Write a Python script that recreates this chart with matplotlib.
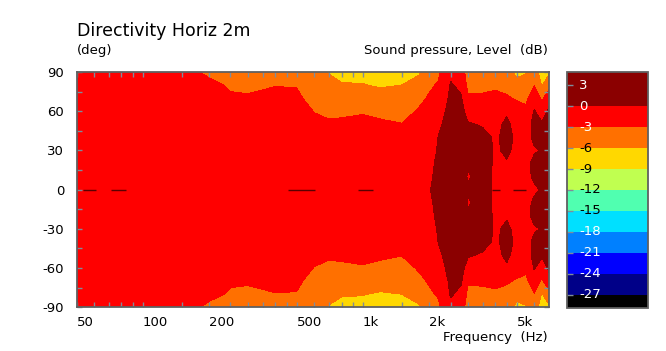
import matplotlib
matplotlib.use('Agg')
import matplotlib.pyplot as plt
from matplotlib.ticker import FixedLocator, NullFormatter
import numpy as np

plt.rcParams['font.family'] = ['DejaVu Sans']
plt.rcParams['axes.unicode_minus'] = False

# frequencies (Hz) of the measured columns
freqs = [50, 100, 150, 180, 200, 250, 300, 400, 500, 600, 700, 800, 1000, 1200,
         1500, 1800, 2000, 2200, 2500, 2800, 3000, 3500, 4000, 4500, 5000, 5500,
         6000, 6500, 7000]
# angles of the upper half (deg), lower half is mirrored
angles_up = [0, 10, 20, 30, 40, 50, 60, 70, 80, 90]

# level in dB, one row per frequency, columns = angles_up
level = [
    [-1.0, -1.0, -1.1, -1.2, -1.3, -1.5, -1.7, -1.9, -2.1, -2.3],   # 50
    [-1.0, -1.0, -1.1, -1.2, -1.4, -1.6, -1.8, -2.1, -2.4, -2.6],   # 100
    [-1.0, -1.1, -1.2, -1.3, -1.5, -1.8, -2.1, -2.4, -2.7, -2.9],   # 150
    [-1.0, -1.1, -1.2, -1.4, -1.6, -1.9, -2.2, -2.5, -2.8, -2.98],  # 180
    [-1.0, -1.1, -1.2, -1.4, -1.7, -2.0, -2.3, -2.5, -2.75, -3.2],  # 200
    [-1.0, -1.1, -1.3, -1.5, -1.8, -2.1, -2.5, -2.88, -3.12, -3.9], # 250
    [-1.0, -1.1, -1.3, -1.5, -1.8, -2.1, -2.5, -2.9, -3.2, -4.0],   # 300
    [-1.0, -1.1, -1.3, -1.5, -1.8, -2.0, -2.3, -2.6, -3.05, -4.0],  # 400
    [-1.0, -1.1, -1.3, -1.5, -1.8, -2.0, -2.3, -2.6, -3.1, -4.5],   # 500
    [-1.0, -1.1, -1.3, -1.6, -2.0, -2.6, -3.05, -3.8, -4.6, -5.5],  # 600
    [-1.0, -1.1, -1.3, -1.7, -2.2, -2.8, -3.3, -4.2, -5.5, -6.1],   # 700
    [-1.0, -1.1, -1.3, -1.7, -2.2, -2.7, -3.3, -4.5, -5.8, -6.8],   # 800
    [-1.0, -1.1, -1.3, -1.7, -2.2, -2.7, -3.1, -4.4, -5.9, -6.8],   # 1k
    [-1.0, -1.1, -1.3, -1.7, -2.3, -2.8, -3.3, -4.8, -6.3, -7.0],   # 1.2k
    [-1.0, -1.1, -1.3, -1.7, -2.3, -2.95, -3.6, -4.6, -6.0, -6.8],  # 1.5k
    [-0.6, -0.7, -0.9, -1.3, -1.8, -2.4, -2.8, -3.4, -5.0, -6.3],   # 1.8k
    [-0.1, -0.3, -0.5, -0.8, -1.2, -1.7, -2.3, -2.8, -3.3, -4.5],   # 2k
    [0.6, 0.5, 0.4, 0.2, 0.05, -0.4, -1.0, -1.8, -2.8, -3.4],       # 2.2k
    [1.5, 1.5, 1.4, 1.3, 1.2, 1.0, 0.8, 0.5, 0.2, -0.5],            # 2.5k
    [1.5, 1.5, 1.4, 1.3, 1.2, 1.0, 0.6, 0.2, -0.5, -1.5],           # 2.8k
    [0.4, -0.3, 0.4, 0.8, 0.6, 0.2, -0.8, -2.6, -3.8, -4.5],        # 3k
    [1.2, 1.3, 1.3, 1.1, 0.6, -0.2, -1.0, -2.5, -3.8, -4.6],        # 3.5k
    [-0.6, -0.6, -0.5, -0.3, -0.3, -0.4, -0.8, -2.4, -3.4, -4.5],   # 4k
    [-0.8, -0.8, -0.2, 0.4, 0.6, 0.3, -0.2, -2.7, -3.8, -4.8],      # 4.5k
    [-0.8, -0.8, -0.7, -0.6, -0.4, -0.6, -1.8, -3.3, -5.0, -6.8],   # 5k
    [-0.5, -0.5, -0.5, -0.6, -0.6, -0.8, -2.4, -3.6, -4.8, -6.2],   # 5.5k
    [-0.3, 0.3, 0.5, -0.2, 0.4, 0.5, 0.2, -1.2, -3.1, -4.0],        # 6k
    [0.2, 0.4, 0.4, 0.1, 0.3, 0.4, -1.5, -3.5, -6.2, -8.0],         # 6.5k
    [0.5, 0.5, 0.3, 0.5, 0.3, 0.5, 0.5, -1.0, -4.0, -6.5],          # 7k
]

# short dark segments along the 0 deg line (Hz)
zero_seg_start = [53.5, 72, 457, 952, 3870, 4820]
zero_seg_end = [61, 84, 607, 1113, 4210, 5520]

levels = [-28.9, -27, -24, -21, -18, -15, -12, -9, -6, -3, 0, 4.85]
colors = ['#000000', '#000088', '#0000ff', '#0080ff', '#00e0ff', '#50ffb0',
          '#c0ff50', '#ffd800', '#ff7000', '#ff0000', '#8b0000']
cbar_ticks = [3, 0, -3, -6, -9, -12, -15, -18, -21, -24, -27]
cbar_text_col = ['white', 'white', 'white', 'black', 'black', 'black', 'black',
                 'white', 'white', 'white', 'white']

xtick_major = [50, 100, 200, 500, 1000, 2000, 5000]
xtick_labels = ['50', '100', '200', '500', '1k', '2k', '5k']
xtick_minor = [60, 70, 80, 90, 150, 250, 300, 350, 400, 450, 600, 700, 800, 900,
               1500, 2500, 3000, 3500, 4000, 4500, 6000]

# build the full grid, mirror the upper half to negative angles
up = np.array(level).T
full = np.vstack([up[:0:-1], up])
ang = np.concatenate([-np.array(angles_up[:0:-1]), np.array(angles_up)])

fig = plt.figure(figsize=(6.66, 3.51), dpi=100)
ax = fig.add_axes([0.1149, 0.1245, 0.7094, 0.6704])
cax = fig.add_axes([0.8509, 0.1225, 0.1225, 0.6715])

cs = ax.contourf(freqs, ang, full, levels=levels, colors=colors)
ax.hlines([0] * len(zero_seg_start), zero_seg_start, zero_seg_end,
          color='#5a0000', lw=1)

ax.set_xscale('log')
ax.set_xlim(50, 7000)
ax.set_ylim(-90, 90)

ax.xaxis.set_major_locator(FixedLocator(xtick_major))
ax.xaxis.set_minor_locator(FixedLocator(xtick_minor))
ax.xaxis.set_minor_formatter(NullFormatter())
ax.set_xticklabels(xtick_labels)
for lab in ax.get_xticklabels():
    lab.set_horizontalalignment('left')

ax.set_yticks([-90, -60, -30, 0, 30, 60, 90])
ax.set_yticks([-75, -45, -15, 15, 45, 75], minor=True)

gray = '#606060'
for s in ax.spines.values():
    s.set_color(gray)
    s.set_linewidth(1.3)
ax.tick_params(which='both', direction='in', length=3.5, color='#7f8c9a',
               top=True, right=True, labelsize=9.5, width=1)
ax.tick_params(axis='x', pad=6)
ax.tick_params(axis='y', pad=9)

# colorbar
cb = fig.colorbar(cs, cax=cax, spacing='proportional')
cb.outline.set_edgecolor(gray)
cb.outline.set_linewidth(1.3)
cax.yaxis.set_ticks_position('left')
cb.set_ticks(cbar_ticks)
cax.tick_params(direction='in', length=4, color='#7f8c9a', labelleft=False,
                labelright=False, width=1)
cax.minorticks_off()
for v, c in zip(cbar_ticks, cbar_text_col):
    cax.text(0.15, v, '-%d' % abs(v) if v < 0 else '%d' % v, color=c,
             fontsize=9.5, va='center', ha='left',
             transform=cax.get_yaxis_transform())

fig.text(77 / 666, 1 - 36 / 351, 'Directivity Horiz 2m', fontsize=12.5,
         ha='left', va='baseline')
fig.text(77 / 666, 1 - 54 / 351, '(deg)', fontsize=9.5, ha='left', va='baseline')
fig.text(548 / 666, 1 - 54 / 351, 'Sound pressure, Level  (dB)', fontsize=9.5,
         ha='right', va='baseline')
fig.text(548 / 666, 1 - 341 / 351, 'Frequency  (Hz)', fontsize=9.5,
         ha='right', va='baseline')

fig.savefig('out.png', dpi=100)
